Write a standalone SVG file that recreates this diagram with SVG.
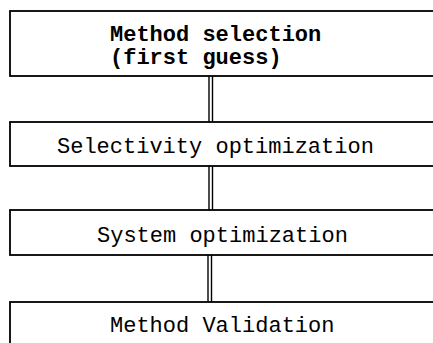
<svg xmlns="http://www.w3.org/2000/svg" width="433" height="343" viewBox="0 0 433 343">
<style>
.box{fill:#fff;stroke:#000;stroke-width:1.8}
.t{font-family:"Liberation Mono","Courier New",monospace;font-size:22px;fill:#000}
.b{font-weight:bold}
.c{stroke:#000;stroke-width:1.4;fill:none}
</style>
<rect width="433" height="343" fill="#fff"/>
<g id="connectors">
<path class="c" d="M209 76V122M212.5 76V122"/>
<path class="c" d="M209 166V210M212.5 166V210"/>
<path class="c" d="M208 255V302M211.5 255V302"/>
</g>
<g id="n1">
<rect class="box" x="10" y="11" width="440" height="65"/>
<text class="t b" x="110" y="41">Method selection</text>
<text class="t b" x="110" y="64">(first guess)</text>
</g>
<g id="n2">
<rect class="box" x="10" y="122" width="440" height="44"/>
<text class="t" x="57" y="153">Selectivity optimization</text>
</g>
<g id="n3">
<rect class="box" x="10" y="210" width="440" height="45"/>
<text class="t" x="97" y="242">System optimization</text>
</g>
<g id="n4">
<rect class="box" x="10" y="302" width="440" height="60"/>
<text class="t" x="110" y="332">Method Validation</text>
</g>
</svg>
